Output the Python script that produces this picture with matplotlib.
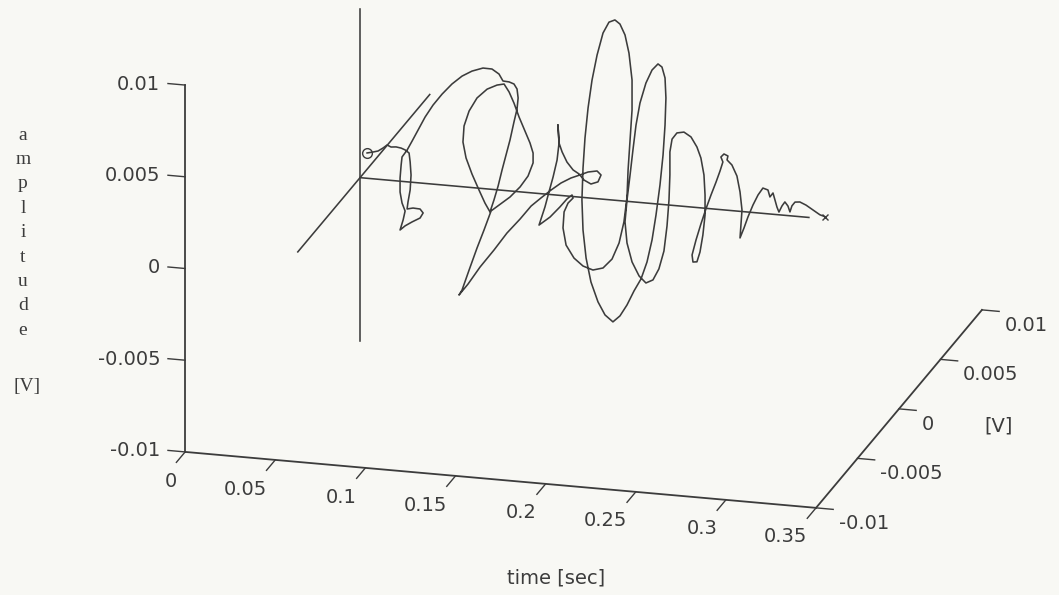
import matplotlib
matplotlib.use("Agg")
import matplotlib.pyplot as plt
import numpy as np

# trace: time [ms] and amplitude [mV], drawn in the imag = 0 plane
time_ms = [54.9, 58.2, 61.0, 63.8, 66.0, 68.2, 71.0, 73.8, 76.0, 78.2,
           78.8, 79.3, 78.8, 77.6, 77.1, 80.4, 84.3, 86.0, 84.3, 79.9,
           76.0, 73.2, 74.9, 76.0, 74.3, 73.2, 73.2, 73.8, 74.3, 77.1,
           79.9, 83.2, 87.1, 91.5, 96.5, 102.0, 107.6, 113.1, 119.2, 124.2,
           128.1, 130.3, 133.7, 136.4, 138.1, 138.7, 138.1, 136.4, 134.2, 132.0,
           129.8, 127.6, 125.3, 123.1, 120.3, 117.0, 113.1, 109.8, 108.1, 108.7,
           111.5, 115.9, 121.5, 127.0, 130.9, 133.7, 136.4, 139.2, 142.5, 145.3,
           147.0, 147.0, 144.2, 139.8, 134.2, 128.1, 123.7, 119.8, 115.9, 111.5,
           107.6, 105.9, 110.9, 117.6, 125.3, 132.5, 139.8, 145.9, 151.4, 157.0,
           162.5, 168.0, 173.0, 177.5, 182.5, 184.7, 183.0, 179.1, 175.3, 172.5,
           169.2, 165.8, 163.1, 161.4, 160.8, 161.4, 160.3, 158.1, 155.8, 153.6,
           150.3, 156.4, 161.9, 165.8, 168.6, 169.2, 166.4, 164.2, 163.6, 165.3,
           169.7, 174.7, 180.2, 185.8, 190.8, 194.7, 197.4, 199.1, 199.7, 200.8,
           201.9, 201.9, 200.2, 198.0, 195.2, 192.4, 189.1, 185.8, 182.5, 179.7,
           177.5, 175.8, 174.7, 174.1, 174.7, 176.4, 179.1, 183.0, 186.9, 191.3,
           195.2, 199.1, 203.0, 206.9, 210.2, 213.0, 215.2, 217.4, 219.1, 220.2,
           220.7, 220.2, 218.5, 216.3, 213.0, 209.6, 206.3, 204.1, 202.4, 200.8,
           199.1, 198.0, 199.1, 201.9, 205.8, 209.6, 213.5, 216.8, 219.6, 221.3,
           222.4, 222.9, 222.9, 224.1, 226.8, 230.7, 234.6, 237.9, 240.1, 241.8,
           242.4, 242.4, 241.2, 239.6, 237.9, 235.7, 235.2, 237.4, 240.1, 242.9,
           245.7, 248.5, 250.7, 252.3, 251.2, 252.9, 255.1, 254.6, 257.3, 260.1,
           261.8, 262.9, 262.3, 261.8, 264.0, 266.2, 269.0, 271.8, 274.5, 277.3,
           278.4, 280.1, 282.3, 283.4, 285.1, 286.7, 288.4, 289.5, 290.6, 292.3,
           295.0, 298.4, 302.3, 306.1, 308.9]
amp_mV = [1.38, 1.46, 1.54, 1.73, 1.91, 1.82, 1.85, 1.81, 1.73, 1.58,
          1.10, 0.39, -0.43, -1.10, -1.48, -1.40, -1.42, -1.62, -1.91, -2.16,
          -2.41, -2.66, -2.10, -1.60, -1.18, -0.59, 0.17, 0.89, 1.33, 1.73,
          2.25, 2.88, 3.62, 4.31, 4.95, 5.55, 6.03, 6.35, 6.57, 6.56,
          6.32, 5.96, 5.94, 5.85, 5.59, 5.11, 4.50, 3.78, 2.78, 1.94,
          1.11, 0.21, -0.57, -1.24, -0.78, -0.10, 0.74, 1.59, 2.44, 3.32,
          4.16, 4.91, 5.44, 5.71, 5.80, 5.39, 4.81, 4.08, 3.34, 2.71,
          2.18, 1.64, 0.90, 0.27, -0.33, -0.82, -1.18, -2.25, -3.27, -4.51,
          -5.63, -5.92, -5.28, -4.29, -3.30, -2.31, -1.48, -0.72, -0.23, 0.25,
          0.68, 1.00, 1.21, 1.41, 1.51, 1.31, 0.92, 0.77, 0.95, 1.26,
          1.45, 1.85, 2.38, 2.85, 3.83, 2.85, 1.91, 0.97, 0.13, -0.70,
          -1.72, -1.23, -0.63, -0.16, 0.08, -0.08, -0.38, -0.88, -1.76, -2.68,
          -3.35, -3.74, -3.91, -3.75, -3.22, -2.31, -1.14, 0.23, 1.71, 3.36,
          5.00, 6.64, 8.09, 9.06, 9.63, 9.83, 9.68, 9.06, 7.83, 6.44,
          4.90, 3.25, 1.60, -0.14, -1.78, -3.29, -4.57, -5.62, -6.30, -6.64,
          -6.28, -5.65, -4.85, -4.16, -3.21, -1.98, -0.60, 1.05, 2.70, 4.34,
          5.82, 6.91, 7.49, 7.64, 7.28, 6.54, 5.42, 4.20, 2.83, 1.45,
          0.07, -1.13, -2.27, -3.28, -4.01, -4.36, -4.16, -3.53, -2.53, -1.15,
          0.28, 1.65, 2.90, 3.61, 3.97, 4.05, 3.82, 3.30, 2.72, 1.81,
          0.72, -0.37, -1.47, -2.41, -2.96, -2.99, -2.61, -1.77, -0.88, -0.03,
          0.75, 1.48, 2.10, 2.61, 2.87, 3.05, 2.96, 2.74, 2.49, 1.91,
          1.06, 0.08, -0.79, -1.45, -0.89, -0.27, 0.41, 0.98, 1.38, 1.30,
          0.93, 1.16, 0.41, 0.15, 0.50, 0.73, 0.52, 0.21, 0.55, 0.77,
          0.80, 0.66, 0.43, 0.20, 0.12]

# the little reference frame the trace is drawn in
frame_t0 = 0.051
frame_t1 = 0.300
real_axis = [-0.0089, 0.0092]
imag_axis = [-0.0075, 0.0084]

t_ticks = [0, 0.05, 0.1, 0.15, 0.2, 0.25, 0.3, 0.35]
t_labels = ["0", "0.05", "0.1", "0.15", "0.2", "0.25", "0.3", "0.35"]
v_ticks = [-0.01, -0.005, 0, 0.005, 0.01]
v_labels = ["-0.01", "-0.005", "0", "0.005", "0.01"]

ink = "#3c3c3c"
plt.rcParams["font.family"] = ["DejaVu Sans"]
plt.rcParams["xtick.color"] = ink
plt.rcParams["ytick.color"] = ink
plt.rcParams["xtick.major.width"] = 1.0
plt.rcParams["ytick.major.width"] = 1.0

W, H = 1059, 595
fig = plt.figure(figsize=(W / 100, H / 100), dpi=100)
fig.patch.set_facecolor("#f8f8f4")

ax = fig.add_axes([0.2625, 0.1546, 0.5619, 1.0], projection="3d", proj_type="ortho")
ax.set_facecolor((1, 1, 1, 0))
ax.view_init(elev=18.98, azim=-74.75)
ax.set_box_aspect((654, 631, 388), zoom=1.612)
ax.set_xlim(0, 0.35)
ax.set_ylim(-0.01, 0.01)
ax.set_zlim(-0.01, 0.01)

t = np.array(time_ms) / 1000
a = np.array(amp_mV) / 1000
zero = np.zeros_like(t)

ax.plot(t, zero, a, color=ink, lw=1.15)
ax.plot([t[0]], [0], [a[0]], marker="o", ms=7, mfc="none", mec=ink, mew=1.0)
ax.plot([t[-1]], [0], [a[-1]], marker="x", ms=5, mec=ink, mew=1.0)

ax.plot([frame_t0, frame_t1], [0, 0], [0, 0], color=ink, lw=1.15)
ax.plot([frame_t0, frame_t0], [0, 0], real_axis, color=ink, lw=1.15)
ax.plot([frame_t0, frame_t0], imag_axis, [0, 0], color=ink, lw=1.15)

ax.set_xticks(t_ticks)
ax.set_xticklabels(t_labels)
ax.set_yticks(v_ticks)
ax.set_yticklabels(v_labels)
ax.set_zticks(v_ticks)
ax.set_zticklabels(v_labels)
ax.tick_params(labelsize=14, colors=ink)
ax.tick_params(axis="y", pad=0)
ax.tick_params(axis="z", pad=-1)
ax.grid(False)

# ticks: time ticks point to the front, depth ticks to the right, amplitude ticks to the left
tick_in = {"x": 0.66, "y": 0.34, "z": 0.0}
tick_out = {"x": 0.0, "y": 0.0, "z": 0.34}
for name, axis in (("x", ax.xaxis), ("y", ax.yaxis), ("z", ax.zaxis)):
    axis.set_pane_color((1, 1, 1, 0))
    axis.pane.set_edgecolor((1, 1, 1, 0))
    axis.line.set_color(ink)
    axis.line.set_linewidth(1.3)
    axis._axinfo["tick"] = dict(axis._axinfo["tick"])
    axis._axinfo["tick"]["inward_factor"] = tick_in[name]
    axis._axinfo["tick"]["outward_factor"] = tick_out[name]
    axis._axinfo["tick"]["linewidth"] = {True: 1.0, False: 0.5}

# amplitude axis on the front left edge, ticks along the time direction
ax.zaxis.set_ticks_position("lower")
ax.zaxis._get_tickdir = lambda position: 0

for lab in ax.get_xticklabels():
    lab.set_ha("right")
    lab.set_va("center")
for lab in ax.get_yticklabels():
    lab.set_ha("left")
    lab.set_va("center")
for lab in ax.get_zticklabels():
    lab.set_ha("right")
    lab.set_va("baseline")

# axis titles
fig.text(556 / W, 1 - 578 / H, "time [sec]", ha="center", va="center",
         fontsize=14, color=ink)
fig.text(999 / W, 1 - 426 / H, "[V]", ha="center", va="center",
         fontsize=14, color=ink)
for i, ch in enumerate("amplitude"):
    fig.text(23 / W, 1 - (139.5 + 24.4 * i) / H, ch, ha="center", va="baseline",
             fontsize=14, color=ink, family="Liberation Serif")
fig.text(27 / W, 1 - 387 / H, "[V]", ha="center", va="center",
         fontsize=14, color=ink, family="Liberation Serif")

fig.savefig("out.png", dpi=100, facecolor=fig.get_facecolor())
